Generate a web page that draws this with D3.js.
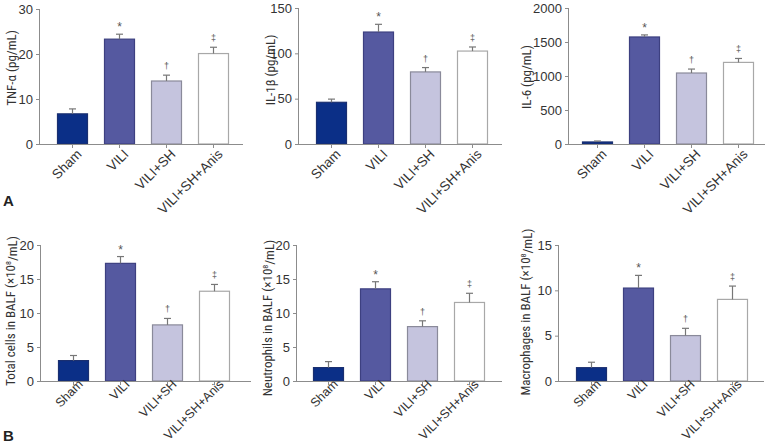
<!DOCTYPE html>
<html><head><meta charset="utf-8">
<script src="https://cdn.jsdelivr.net/npm/d3@7"></script>
<style>
html,body{margin:0;padding:0;background:#fff;}
svg{display:block;font-family:"Liberation Sans Narrow","Roboto Condensed","Liberation Sans",Arial,sans-serif;}
</style></head>
<body><svg id="c" width="768" height="444"></svg>
<script>
// ---- data ----
const categories = ["Sham", "VILI", "VILI+SH", "VILI+SH+Anis"];
const markers = ["", "*", "†", "‡"];

const tnfValues = [6.7, 23.3, 14.0, 20.1];
const tnfErrors = [1.1, 1.1, 1.3, 1.4];
const tnfTicks = [0, 10, 20, 30];

const il1bValues = [46, 123.5, 79.5, 102.5];
const il1bErrors = [3.5, 8.5, 4.8, 4.5];
const il1bTicks = [0, 50, 100, 150];

const il6Values = [30, 1574, 1044, 1200];
const il6Errors = [14, 30, 58, 58];
const il6Ticks = [0, 500, 1000, 1500, 2000];

const totalValues = [3.0, 17.3, 8.25, 13.2];
const totalErrors = [0.75, 1.0, 0.95, 1.0];
const totalTicks = [0, 5, 10, 15, 20];

const neutroValues = [1.97, 13.55, 8.0, 11.55];
const neutroErrors = [0.88, 1.05, 0.85, 1.35];
const neutroTicks = [0, 5, 10, 15, 20];

const macroValues = [1.47, 10.25, 5.01, 9.0];
const macroErrors = [0.6, 1.4, 0.8, 1.47];
const macroTicks = [0, 5, 10, 15];

// ---- styles ----
const fills = ["#0b2f87", "#5559a0", "#c5c4de", "#ffffff"];
const strokes = ["#1a2f70", "#3d4080", "#8a8a9a", "#a8a8a8"];
const axisColor = "#8c8c8c";
const textColor = "#333";

const svg = d3.select("#c");

const panels = [
  {values: tnfValues, errors: tnfErrors, ticks: tnfTicks, label: ["TNF-α (pg/mL)"], ax: 40, axEnd: 243, off: 17, top: 9, bottom: 144, lx: 11, ly: 68, xl: [10, 11], xfs: 13.5},
  {values: il1bValues, errors: il1bErrors, ticks: il1bTicks, label: ["IL-1β (pg/mL)"], ax: 299, axEnd: 502, off: 17, top: 8, bottom: 144, lx: 270, ly: 70, xl: [10, 11], xfs: 13.5},
  {values: il6Values, errors: il6Errors, ticks: il6Ticks, label: ["IL-6 (pg/mL)"], ax: 569, axEnd: 765, off: 13, top: 8, bottom: 144, lx: 526, ly: 77, xl: [10, 11], xfs: 13.5},
  {values: totalValues, errors: totalErrors, ticks: totalTicks, label: ["Total cells in BALF (×10", "8", "/mL)"], ax: 41, axEnd: 251, off: 17, top: 245, bottom: 381, lx: 10, ly: 311, xl: [10, 4], xfs: 12.5},
  {values: neutroValues, errors: neutroErrors, ticks: neutroTicks, label: ["Neutrophils in BALF (×10", "8", "/mL)"], ax: 297, axEnd: 502, off: 16, top: 245, bottom: 381, lx: 267, ly: 318, xl: [10, 4], xfs: 12.5},
  {values: macroValues, errors: macroErrors, ticks: macroTicks, label: ["Macrophages in BALF (×10", "8", "/mL)"], ax: 559, axEnd: 764, off: 17, top: 245, bottom: 381, lx: 525, ly: 312, xl: [10, 4], xfs: 12.5}
];

const step = 47, barW = 31;

panels.forEach(p => {
  const g = svg.append("g");
  const maxT = p.ticks[p.ticks.length - 1];
  const y = d3.scaleLinear().domain([0, maxT]).range([p.bottom, p.top]);
  const pad = (step - barW) / step;
  const x = d3.scaleBand().domain(categories)
    .range([p.ax + p.off - (step - barW) / 2, p.ax + p.off - (step - barW) / 2 + step * 4])
    .paddingInner(pad).paddingOuter(pad / 2);

  // y axis
  const ya = g.append("g").attr("transform", `translate(${p.ax},0)`)
    .call(d3.axisLeft(y).tickValues(p.ticks).tickSize(4).tickPadding(3).tickFormat(d3.format("d")));
  ya.select(".domain").attr("stroke", axisColor).attr("d", `M-0.5,${p.top}V${p.bottom}`);
  ya.selectAll(".tick line").attr("stroke", axisColor);
  ya.selectAll(".tick text").attr("fill", textColor).style("font-size", "13px").style("font-family", "inherit");

  // bars
  g.selectAll("rect.bar").data(p.values).join("rect")
    .attr("x", (d, i) => x(categories[i]) + 0.5)
    .attr("y", d => y(d))
    .attr("width", x.bandwidth() - 1)
    .attr("height", d => p.bottom - y(d))
    .attr("fill", (d, i) => fills[i])
    .attr("stroke", (d, i) => strokes[i])
    .attr("stroke-width", 1.2);

  // error bars
  p.values.forEach((v, i) => {
    const cx = x(categories[i]) + x.bandwidth() / 2;
    const yt = y(v + p.errors[i]);
    g.append("line").attr("x1", cx).attr("x2", cx).attr("y1", y(v)).attr("y2", yt)
      .attr("stroke", "#777").attr("stroke-width", 1.2);
    g.append("line").attr("x1", cx - 3.5).attr("x2", cx + 3.5).attr("y1", yt).attr("y2", yt)
      .attr("stroke", "#777").attr("stroke-width", 1.2);
    if (markers[i]) {
      g.append("text").attr("x", cx).attr("y", markers[i] === "*" ? yt - 3 : yt - 6)
        .attr("text-anchor", "middle").attr("fill", "#555")
        .style("font-size", markers[i] === "*" ? "12px" : "9px")
        .style("font-family", "'Liberation Sans', Arial, sans-serif")
        .text(markers[i]);
    }
  });

  // x axis
  const xa = g.append("g").attr("transform", `translate(0,${p.bottom})`)
    .call(d3.axisBottom(x).tickSize(4).tickSizeOuter(0).tickFormat(""));
  xa.select(".domain").attr("stroke", axisColor).attr("d", `M${p.ax},0.5H${p.axEnd}`);
  xa.selectAll(".tick line").attr("stroke", axisColor);
  xa.selectAll(".tick").append("text")
    .attr("fill", textColor).attr("text-anchor", "end")
    .attr("transform", `translate(${p.xl[0]},${p.xl[1]}) rotate(-45)`)
    .style("font-size", p.xfs + "px").style("font-family", "inherit")
    .text(d => d);

  // y label
  const t = g.append("text").attr("transform", `translate(${p.lx},${p.ly}) rotate(-90)`)
    .attr("text-anchor", "middle").attr("dy", "0.35em")
    .attr("fill", textColor).style("font-size", "13px");
  t.append("tspan").text(p.label[0]);
  if (p.label.length > 1) {
    t.append("tspan").attr("dy", "-0.45em").style("font-size", "8px").text(p.label[1]);
    t.append("tspan").attr("dy", "0.45em").text(p.label[2]);
  }
});

svg.append("text").attr("x", 3).attr("y", 206).text("A")
  .style("font-family", "'Liberation Sans', Arial, sans-serif").style("font-weight", "bold").style("font-size", "15px").attr("fill", "#222");
svg.append("text").attr("x", 3).attr("y", 441).text("B")
  .style("font-family", "'Liberation Sans', Arial, sans-serif").style("font-weight", "bold").style("font-size", "15px").attr("fill", "#222");
</script></body></html>
